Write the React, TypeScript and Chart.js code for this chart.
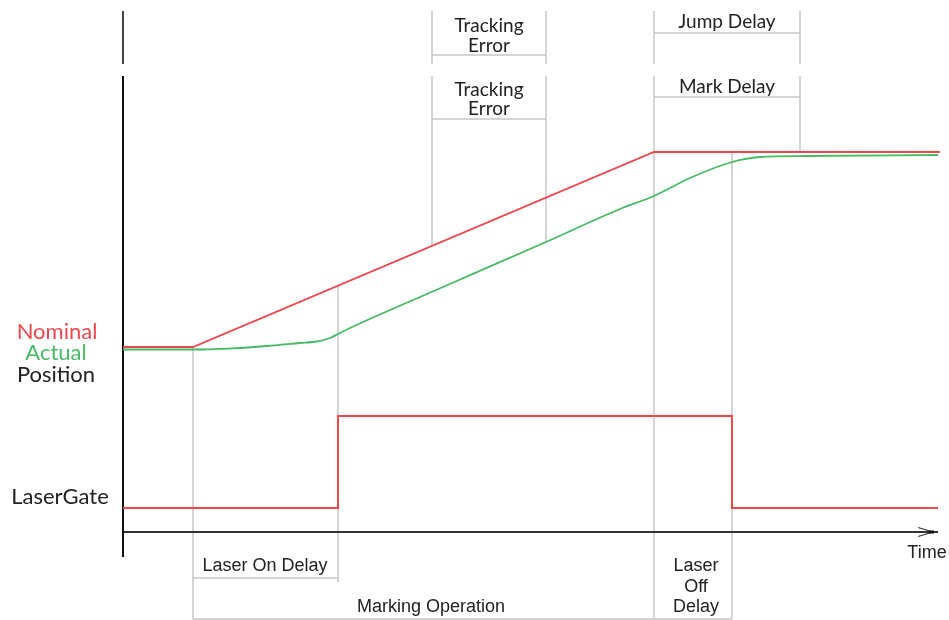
import React, { useEffect, useRef } from 'react';
import { Chart, registerables } from 'chart.js';

Chart.register(...registerables);

// ---- Data (time units on x, position/level units on y) ----
const nominalTime = [0, 7.0, 53.1, 81.7];
const nominalPos = [18.5, 18.5, 38.0, 38.0];

const actualTime = [0, 7.0, 11.0, 14.4, 17.7, 19.4, 20.7, 21.5, 22.7, 32.0, 42.3, 49.7, 53.1, 56.7, 60.9, 63.7, 68.3, 81.5];
const actualPos = [18.25, 18.25, 18.37, 18.6, 18.9, 19.05, 19.4, 19.8, 20.4, 24.5, 29.0, 32.3, 33.6, 35.4, 37.0, 37.5, 37.6, 37.7];

const gateTime = [0, 21.5, 21.5, 60.9, 60.9, 81.5];
const gateLevel = [2.4, 2.4, 11.6, 11.6, 2.4, 2.4];

// vertical guide lines
const guideTime = [7.0, 21.5, 30.9, 30.9, 42.3, 42.3, 53.1, 53.1, 60.9, 67.7, 67.7];
const guideFrom = [18.5, 24.6, 52.1, 45.6, 52.1, 45.6, 52.1, 45.6, 38.0, 52.1, 45.6];
const guideTo = [-8.7, -5.0, 46.8, 28.6, 46.8, 29.0, 46.8, -8.7, -8.7, 46.8, 38.0];

// horizontal guide lines
const spanLevel = [47.7, 41.3, 49.9, 43.5, -4.6, -8.7];
const spanFrom = [30.9, 30.9, 53.1, 53.1, 7.0, 7.0];
const spanTo = [42.3, 42.3, 67.7, 67.7, 21.5, 60.9];

// axes
const axisUpper = [52.1, 46.8];
const axisLower = [45.6, -2.5];
const timeAxisEnd = 81.5;
const arrowTime = [79.5, 81.0, 79.5];
const arrowLevel = [0.45, 0, -0.45];

// labels
const labelText = ['Nominal', 'Actual', 'Position', 'LaserGate', 'Tracking', 'Error', 'Tracking', 'Error', 'Jump Delay', 'Mark Delay', 'Laser On Delay', 'Marking Operation', 'Laser', 'Off', 'Delay', 'Time'];
const labelTime = [-6.6, -6.7, -6.7, -6.3, 36.6, 36.6, 36.6, 36.6, 60.4, 60.4, 14.2, 30.8, 57.3, 57.3, 57.3, 80.4];
const labelLevel = [20.0, 17.9, 15.7, 3.5, 50.6, 48.6, 44.2, 42.3, 51.0, 44.5, -3.4, -7.5, -3.4, -5.5, -7.5, -2.1];
const labelKind = ['n', 'a', 'p', 'p', 't', 't', 't', 't', 't', 't', 'b', 'b', 'b', 'b', 'b', 'b'];

const RED = '#f0474c';
const GREEN = '#45bb63';
const GRAY = '#c6c6c6';

const pts = (xs: number[], ys: number[]) => xs.map((x, i) => ({ x, y: ys[i] }));

export default function App() {
  const ref = useRef<HTMLCanvasElement | null>(null);

  useEffect(() => {
    if (!ref.current) return;
    const lineDs = (data: any[], color: string, width: number, extra: any = {}) => ({
      data,
      showLine: true,
      borderColor: color,
      backgroundColor: color,
      borderWidth: width,
      pointRadius: 0,
      tension: 0,
      fill: false,
      ...extra,
    });

    const datasets: any[] = [];
    datasets.push(lineDs(pts(nominalTime, nominalPos), RED, 1.8));
    datasets.push(lineDs(pts(actualTime, actualPos), GREEN, 1.8, { cubicInterpolationMode: 'monotone' }));
    datasets.push(lineDs(pts(gateTime, gateLevel), RED, 2));
    datasets.push(lineDs(pts([0, 0], axisUpper), '#333', 1.8));
    datasets.push(lineDs(pts([0, 0], axisLower), '#111', 2));
    datasets.push(lineDs(pts([0, timeAxisEnd], [0, 0]), '#333', 2));
    datasets.push(lineDs(pts(arrowTime, arrowLevel), '#333', 1.3));
    guideTime.forEach((t, i) => {
      datasets.push(lineDs(pts([t, t], [guideFrom[i], guideTo[i]]), GRAY, 1.5));
    });
    spanLevel.forEach((lv, i) => {
      datasets.push(lineDs(pts([spanFrom[i], spanTo[i]], [lv, lv]), GRAY, 1.5));
    });

    const labelPlugin = {
      id: 'diagramLabels',
      afterDatasetsDraw(chart: any) {
        const { ctx, scales } = chart;
        ctx.save();
        ctx.textAlign = 'center';
        ctx.textBaseline = 'middle';
        labelText.forEach((txt, i) => {
          const k = labelKind[i];
          let font = '19px Lato';
          let color = '#222';
          if (k === 'n' || k === 'a' || k === 'p') font = '22px Lato';
          if (k === 'n') color = RED;
          if (k === 'a') color = GREEN;
          if (k === 'b') font = '18px "Liberation Sans"';
          ctx.font = font;
          ctx.fillStyle = color;
          ctx.fillText(txt, scales.x.getPixelForValue(labelTime[i]), scales.y.getPixelForValue(labelLevel[i]));
        });
        // arrow tip dot
        const tx = scales.x.getPixelForValue(81.0);
        const ty = scales.y.getPixelForValue(0);
        ctx.fillStyle = '#111';
        ctx.fillRect(tx - 4, ty - 1.5, 5, 3);
        ctx.restore();
      },
    };

    const chart = new Chart(ref.current, {
      type: 'scatter',
      data: { datasets },
      options: {
        animation: false,
        responsive: false,
        devicePixelRatio: 1,
        events: [],
        layout: { padding: 0 },
        plugins: { legend: { display: false }, tooltip: { enabled: false }, title: { display: false } },
        scales: {
          x: { type: 'linear', min: -12.3, max: 82.6, display: false },
          y: { type: 'linear', min: -8.8, max: 53.2, display: false },
        },
        elements: { line: { borderCapStyle: 'butt' } },
      },
      plugins: [labelPlugin],
    });
    return () => chart.destroy();
  }, []);

  return (
    <div style={{ position: 'fixed', left: 0, top: 0, width: 949, height: 620, background: '#fff' }}>
      <canvas ref={ref} width={949} height={620} style={{ display: 'block' }} />
    </div>
  );
}
